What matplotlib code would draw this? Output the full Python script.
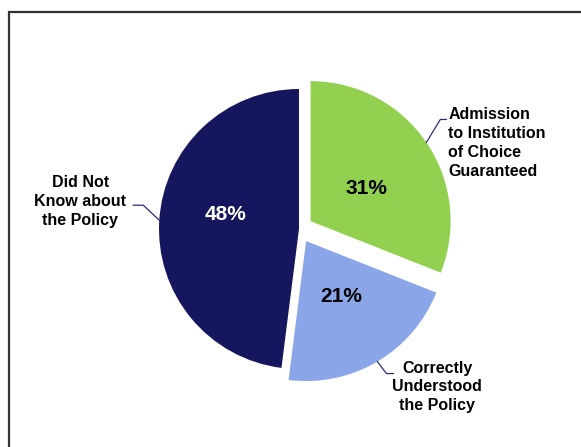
import matplotlib
matplotlib.use('Agg')
import matplotlib.pyplot as plt
from matplotlib.patches import Rectangle
import numpy as np

# data
labels = ['Admission\nto Institution\nof Choice\nGuaranteed',
          'Correctly\nUnderstood\nthe Policy',
          'Did Not\nKnow about\nthe Policy']
shares = [31, 21, 48]
colors = ['#92d050', '#8aa6e9', '#16165e']
pct_colors = ['black', 'black', 'white']
explode = [0.1, 0.1, 0.0]   # fraction of radius

plt.rcParams['font.family'] = ['Liberation Sans', 'DejaVu Sans']

W, H = 581, 447
fig = plt.figure(figsize=(W / 100, H / 100), dpi=100)
ax = fig.add_axes([0, 0, 1, 1])

cx, cy, rad = 299, H - 229, 140   # pie centre/radius in pixels

# matplotlib's explode is in data units, so scale it by the radius
wedges, texts, autotexts = ax.pie(shares, colors=colors,
                                  explode=[e * rad for e in explode],
                                  startangle=90, counterclock=False,
                                  center=(cx, cy), radius=rad,
                                  autopct='%d%%', pctdistance=0.46,
                                  wedgeprops=dict(linewidth=0))
pct_nudge = [(3, -4), (2, 0), (-9, 10)]
for t, c, (nx, ny) in zip(autotexts, pct_colors, pct_nudge):
    t.set_color(c)
    t.set_fontsize(15)
    t.set_fontweight('bold')
    px, py = t.get_position()
    t.set_position((px + nx, py + ny))

ax.set_xlim(0, W)
ax.set_ylim(0, H)
ax.axis('off')

# leader lines: start on the arc at mid-angle, (dx1, dy1) kink, (dx2, 0) tail
leaders = [(14, 23, 6), (9, -12, 7), (-16, 15, -10)]
line_col = '#2b2b7a'
for w, lab, (d1x, d1y, d2x) in zip(wedges, labels, leaders):
    mid = np.deg2rad((w.theta1 + w.theta2) / 2)
    x0 = w.center[0] + w.r * np.cos(mid)
    y0 = w.center[1] + w.r * np.sin(mid)
    x1, y1 = x0 + d1x, y0 + d1y
    x2 = x1 + d2x
    ax.plot([x0, x1, x2], [y0, y1, y1], color=line_col, lw=0.9)
    if d2x > 0 and d1y > 0:
        ax.text(x2 + 2, y1 + 12, lab, ha='left', va='top', fontsize=11.5,
                fontweight='bold', linespacing=1.32)
    elif d2x > 0:
        ax.text(x2 + 44, y1 + 13, lab, ha='center', va='top', fontsize=11.5,
                fontweight='bold', linespacing=1.32, multialignment='center')
    else:
        ax.text(x2 - 53, y1 + 4, lab, ha='center', va='center', fontsize=11.5,
                fontweight='bold', linespacing=1.32, multialignment='center')

# frame around the chart, running off the right and bottom edges
frame = Rectangle((8.5, -30), W + 60, H - 11.5 + 30, fill=False,
                  edgecolor='#333333', lw=1.6, transform=None)
fig.patches.append(frame)

fig.savefig('out.png', dpi=100)
